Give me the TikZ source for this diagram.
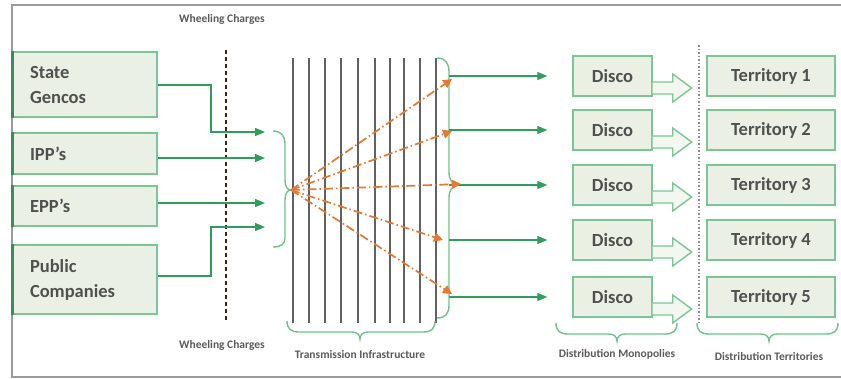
\documentclass[tikz,border=0pt]{standalone}
\usepackage{fontspec}
\setmainfont{Carlito}
\usetikzlibrary{arrows.meta}

\definecolor{boxfill}{HTML}{EAF1E4}
\definecolor{boxline}{HTML}{7CC694}
\definecolor{boxedge}{HTML}{3E8A58}
\definecolor{flowgreen}{HTML}{2E9E5B}
\definecolor{bracegreen}{HTML}{6CC48C}
\definecolor{flow}{HTML}{E8782E}
\definecolor{txt}{HTML}{505050}
\definecolor{lbl}{HTML}{5A5A5A}
\definecolor{frame}{HTML}{9A9A9A}

\tikzset{
  srcbox/.style={draw=boxline, fill=boxfill, line width=1.4pt, minimum width=144pt,
    text width=110pt, align=left, font=\fontsize{18.5}{25}\selectfont\bfseries,
    text=txt, inner sep=0pt},
  discobox/.style={draw=boxline, fill=boxfill, line width=1.4pt, minimum width=79pt,
    minimum height=40pt, font=\fontsize{18.5}{22}\selectfont\bfseries, text=txt, inner sep=0pt},
  terrbox/.style={draw=boxline, fill=boxfill, line width=1.4pt, minimum width=128pt,
    minimum height=40pt, font=\fontsize{18.5}{22}\selectfont\bfseries, text=txt, inner sep=0pt},
  garrow/.style={draw=flowgreen, line width=1.3pt, -{Triangle[width=8pt,length=10pt]}},
  oarrow/.style={draw=flow, line width=1.7pt, dash pattern=on 9pt off 3pt on 1.5pt off 3pt,
    -{Triangle[width=9pt,length=9pt]}},
  gbrace/.style={draw=bracegreen, line width=1.4pt},
  caption/.style={font=\fontsize{11.5}{13}\selectfont\bfseries, text=lbl, inner sep=0pt},
  blockarrow/.style={draw=boxline, fill=boxfill!60!white, line width=1.4pt, line join=miter},
  wire/.style={draw=black!62, line width=1.7pt},
}

% downward brace from (x1,y0) to (x2,y0) with its tip at xm
\newcommand\downbrace[4]{%
  \draw[gbrace] (#1,#3) .. controls (#1,{#3+8}) and ({#1+4},{#3+11}) .. ({#1+12},{#3+11})
    -- ({#4-8},{#3+11}) .. controls ({#4-3},{#3+11}) and (#4,{#3+14}) .. (#4,{#3+18})
    .. controls (#4,{#3+14}) and ({#4+3},{#3+11}) .. ({#4+8},{#3+11})
    -- ({#2-12},{#3+11}) .. controls ({#2-4},{#3+11}) and (#2,{#3+8}) .. (#2,#3);}

\begin{document}
\begin{tikzpicture}[x=1pt,y=-1pt]
\useasboundingbox (0,0) rectangle (841,378);

% outer frame
\draw[frame, line width=2pt] (841,5) -- (12,5) -- (12,377) -- (841,377);

% captions
\node[caption] (wtop) at (222,19) {Wheeling Charges};
\node[caption] (wbot) at (222,345) {Wheeling Charges};
\node[caption] (tcap) at (360,355) {Transmission Infrastructure};
\node[caption] (dcap) at (617,354) {Distribution Monopolies};
\node[caption] (rcap) at (769,356) {Distribution Territories};

% wheeling boundary
\coordinate (wt) at (226,50);
\coordinate (wb) at (226,322);
\draw[draw=black!70!brown, line width=1.5pt, dash pattern=on 4pt off 3pt] (wt) -- (wb);

% generation sources
\node[srcbox, minimum height=65pt] (gencos) at (85,84.5) {State\\Gencos};
\node[srcbox, minimum height=41pt] (ipp) at (85,153.5) {IPP’s};
\node[srcbox, minimum height=40pt] (epp) at (85,206) {EPP’s};
\node[srcbox, minimum height=69pt] (public) at (85,279.5) {Public\\Companies};
\foreach \n in {gencos,ipp,epp,public}
  \draw[boxedge, line width=2.5pt] (\n.north west) -- (\n.south west);

% injection points on the hub brace
\coordinate (in1) at (265,132);
\coordinate (in2) at (265,158);
\coordinate (in3) at (265,203);
\coordinate (in4) at (265,227);
\draw[garrow] (gencos.east |- 0,85) -| (211,132) -- (in1);
\draw[garrow] (ipp.east |- 0,158) -- (in2);
\draw[garrow] (epp.east |- 0,203) -- (in3);
\draw[garrow] (public.east |- 0,276) -| (211,227) -- (in4);

% transmission lines
\foreach \x in {293,309,325,341,358,375,390,404,420,436}
  \draw[wire] (\x,58) -- (\x,323);

% hub brace
\coordinate (hub) at (291,190);
\draw[gbrace] (273,131) .. controls (281,131) and (285,136) .. (285,143) -- (285,180)
  .. controls (285,186) and (287,190) .. (hub) .. controls (287,190) and (285,194) .. (285,200)
  -- (285,238) .. controls (285,244) and (281,247) .. (273,247);

% outgoing brace
\draw[gbrace] (437,58) .. controls (446,58) and (449,64) .. (449,72) -- (449,172)
  .. controls (449,180) and (452,185) .. (460,185) .. controls (452,185) and (449,190) .. (449,198)
  -- (449,305) .. controls (449,313) and (446,318) .. (437,318);

% distribution rows
\foreach \i/\y in {1/76,2/130,3/185,4/240,5/297}{
  \node[discobox] (disco\i) at (612.5,\y) {Disco};
  \node[terrbox] (terr\i) at (771,\y) {Territory \i};
  \coordinate (b\i) at (449,\y);
  \draw[garrow] (b\i) -- ([xshift=-25pt]disco\i.west);
  \filldraw[blockarrow] ([yshift=-6pt]disco\i.east) -- ++(20,0) -- ++(0,-8) -- ++(19,14)
    -- ++(-19,14) -- ++(0,-8) -- ++(-20,0);
}

% flows through the transmission network
\coordinate (o1) at (452,79);
\coordinate (o2) at (452,131);
\coordinate (o3) at (461,184);
\coordinate (o4) at (443,240);
\coordinate (o5) at (452,294);
\foreach \k in {1,...,5}
  \draw[oarrow] (hub) -- (o\k);

% territory boundary
\draw[draw=black!45, line width=1.2pt, dash pattern=on 1.5pt off 2pt] (699,45) -- (699,323);

% group braces
\downbrace{287}{435}{321}{360}
\downbrace{556}{677}{323}{617}
\downbrace{697}{838}{323}{769}
\end{tikzpicture}
\end{document}
